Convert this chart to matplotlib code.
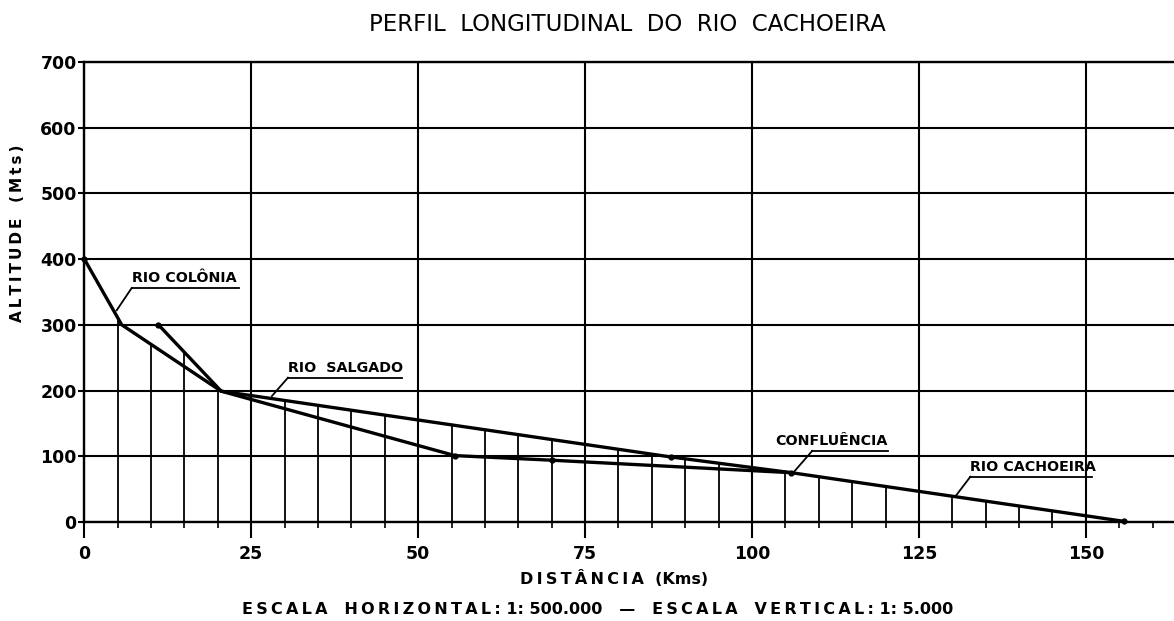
import numpy as np
import matplotlib
matplotlib.use("Agg")
import matplotlib.pyplot as plt
from matplotlib.ticker import MultipleLocator

# profile lines (km, m)
colonia_x = [0, 5.6, 20.5]
colonia_y = [400, 300, 199]
salgado_x = [11.1, 20.5]
salgado_y = [300, 199]
upper_x = [20.5, 87.8, 105.9, 155.7]
upper_y = [199, 99, 75, 1]
lower_x = [20.5, 55.5, 70.0, 105.9]
lower_y = [199, 101, 94, 75]

# small dots marked on the lines
dot_x = [0, 11.1, 55.5, 70.0, 87.8, 105.9, 155.7]
dot_y = [400, 300, 101, 94, 99, 75, 1]

# hatch verticals every 5 km
hatch_x = [x for x in range(5, 160, 5) if x % 25 != 0]

lines = [(colonia_x, colonia_y), (salgado_x, salgado_y),
         (upper_x, upper_y), (lower_x, lower_y)]


def top_of_profile(x):
    vals = [np.interp(x, lx, ly, left=np.nan, right=np.nan) for lx, ly in lines]
    return np.nanmax(vals)


def spaced(s):
    # letter spacing with thin spaces, word gaps kept wider
    return "   ".join("\u2009".join(w) for w in s.split(" "))


hatch_top = [top_of_profile(x) for x in hatch_x]

W, H = 1174, 621
fig = plt.figure(figsize=(W / 100, H / 100), dpi=100)
ax = fig.add_axes([84.3 / W, 1 - 522 / H, 1 - 84.3 / W, (522 - 61.8) / H])
ax.set_xlim(0, 163.2)
ax.set_ylim(0, 700)

ax.xaxis.set_major_locator(MultipleLocator(25))
ax.xaxis.set_minor_locator(MultipleLocator(5))
ax.yaxis.set_major_locator(MultipleLocator(100))
ax.grid(True, which='major', color='black', lw=1.5)
ax.set_axisbelow(True)

for s in ['left', 'bottom', 'top']:
    ax.spines[s].set_linewidth(1.7)
ax.spines['right'].set_visible(False)

ax.tick_params(axis='x', which='major', direction='out', length=11.5, width=1.5,
               pad=5, labelsize=12.5)
ax.tick_params(axis='x', which='minor', direction='out', length=4.5, width=1.2)
ax.tick_params(axis='y', which='major', direction='out', length=4.5, width=1.5,
               pad=1, labelsize=12.5)
for lab in ax.get_xticklabels() + ax.get_yticklabels():
    lab.set_fontweight('bold')

ax.vlines(hatch_x, 0, hatch_top, color='black', lw=1.3)

for lx, ly in lines:
    ax.plot(lx, ly, color='black', lw=2.4, solid_capstyle='round')
ax.plot(dot_x, dot_y, 'o', color='black', ms=3.5, clip_on=False)

# labels: (text, text x, underline y, underline x0, x1, leader end x, y)
labels = [
    ("RIO COLÔNIA", 7.1, 356, 7.1, 23.2, 4.85, 322),
    ("RIO  SALGADO", 30.5, 219.5, 30.5, 47.6, 28.1, 191.6),
    ("CONFLUÊNCIA", 103.5, 108, 109.0, 120.3, 106.3, 76.5),
    ("RIO CACHOEIRA", 132.7, 68.9, 132.7, 150.9, 130.5, 39.5),
]
for txt, tx, uy, ux0, ux1, lx, ly in labels:
    ax.text(tx, uy + 4.5, txt, fontsize=10.3, fontweight='bold',
            ha='left', va='bottom')
    ax.plot([ux0, ux1], [uy, uy], color='black', lw=1.3)
    ax.plot([ux0, lx], [uy, ly], color='black', lw=1.3)

fig.text(627 / W, 1 - 24.5 / H, "PERFIL  LONGITUDINAL  DO  RIO  CACHOEIRA",
         ha='center', va='center', fontsize=16.5)
fig.text(614.5 / W, 1 - 579 / H, spaced("DISTÂNCIA") + "  (Kms)",
         ha='center', va='center', fontsize=11.5, fontweight='bold')
fig.text(597.5 / W, 1 - 609 / H,
         spaced("ESCALA HORIZONTAL:") + " 1: 500.000   —   "
         + spaced("ESCALA VERTICAL:") + " 1: 5.000",
         ha='center', va='center', fontsize=11.5, fontweight='bold')
fig.text(18 / W, 1 - 233 / H, spaced("ALTITUDE (Mts)"),
         ha='center', va='center', rotation=90, fontsize=11, fontweight='bold')

fig.savefig("out.png", dpi=100)
